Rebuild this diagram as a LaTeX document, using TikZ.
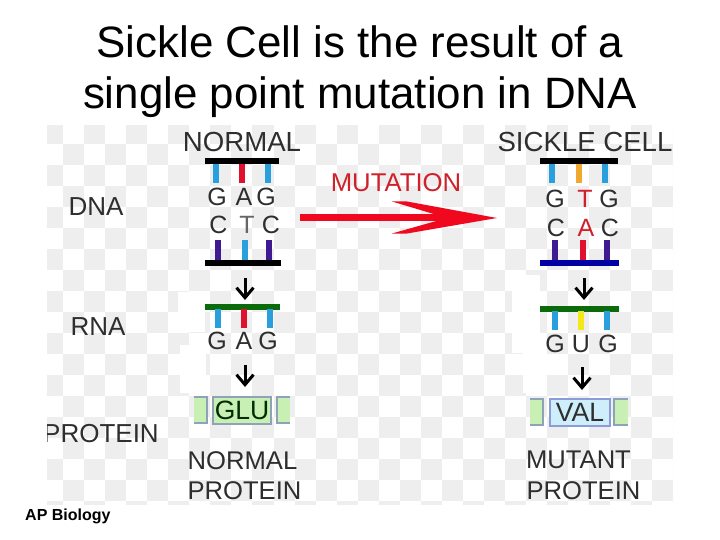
\documentclass[tikz,border=0pt]{standalone}
\usepackage{fontspec}
\setmainfont{Liberation Sans}
\usetikzlibrary{arrows.meta}
\definecolor{chk}{HTML}{EEEEEE}
\definecolor{dnablue}{HTML}{2A9FDD}
\definecolor{dnared}{HTML}{E0102F}
\definecolor{dnapur}{HTML}{3F1A90}
\definecolor{dnaora}{HTML}{F0A830}
\definecolor{dnayel}{HTML}{F5E818}
\definecolor{dnagrn}{HTML}{0B6B0B}
\definecolor{dnanavy}{HTML}{0000A5}
\definecolor{mutred}{HTML}{D0202A}
\definecolor{arrred}{HTML}{F0081E}
\definecolor{pgreen}{HTML}{C8EFB4}
\definecolor{pblue}{HTML}{CDEEFA}
\definecolor{pedge}{HTML}{8FA3B8}
\definecolor{bedge}{HTML}{8C9CD8}
\definecolor{txt}{HTML}{2E2E2E}
\tikzset{
 titletext/.style={inner sep=0,anchor=base,font=\fontsize{43.9}{44}\selectfont,text=black},
 lab/.style={inner sep=0,font=\fontsize{25.6}{26}\selectfont,text=txt},
 head/.style={inner sep=0,font=\fontsize{27.6}{28}\selectfont,text=txt},
 rowlab/.style={inner sep=0,font=\fontsize{26}{26}\selectfont,text=txt},
 base/.style={inner sep=0,font=\fontsize{25}{25}\selectfont,text=txt},
 mutbase/.style={inner sep=0,font=\fontsize{25}{25}\selectfont,text=mutred},
 barnode/.style={rectangle,inner sep=0,minimum height=6pt},
 flowarrow/.style={line width=3pt,black,-{Straight Barb[length=10pt,width=17pt,line width=3pt]}},
 stem/.style={line width=6pt},
 protein/.style={rectangle,inner sep=0,line width=2pt,draw=#1,minimum width=58pt,minimum height=27pt,font=\fontsize{26.5}{27}\selectfont,text=txt},
 sidebox/.style={line width=1.8pt,draw=#1},
}
\newcommand{\stemline}[4]{\draw[stem,#4] (#1,#2) -- (#1,#3);}
\begin{document}
\begin{tikzpicture}[x=1pt,y=-1pt]
\useasboundingbox (0,0) rectangle (720,540);
\fill[white] (0,0) rectangle (720,540);
% checker background
\begin{scope}
\clip (47,126) rectangle (673,504);
\foreach \i in {-1,...,30}{
 \foreach \j in {-1,...,18}{
  \pgfmathtruncatemacro{\p}{mod(\i+\j+40,2)}
  \ifnum\p=0
   \fill[chk] ({63+21.05*\i},{144+21*\j}) rectangle ({63+21.05*\i+21.05},{144+21*\j+21});
  \fi
 }}
\end{scope}
% white patches
\fill[white] (178,292) rectangle (205,332);
\fill[white] (180,345) rectangle (206,393);
\fill[white] (512,275) rectangle (540,353);
\fill[white] (523,353) rectangle (547,393);
% title
\node[titletext] (title1) at (360,57.5) {Sickle Cell is the result of a};
\node[titletext] (title2) at (360,109) {single point mutation in DNA};
% row labels
\node[rowlab] (dna) at (96,207) {DNA};
\node[rowlab] (rna) at (98,327) {RNA};
\begin{scope}
\clip (47,410) rectangle (170,460);
\node[rowlab,anchor=west] (prot) at (43,434) {PROTEIN};
\end{scope}
% headers
\node[head] (normal) at (242,142) {NORMAL};
\node[head] (sickle) at (585,142) {SICKLE CELL};
% mutation
\node[inner sep=0,font=\fontsize{25.7}{26}\selectfont,text=mutred] (mutation) at (396,183) {MUTATION};
\coordinate (mstart) at (300,218);
\coordinate (mend) at (455,218);
\draw[line width=7pt,arrred] (mstart) -- (mend);
\fill[arrred] (392,201.5) -- (407,201.5) -- (497,218) -- (407,233.5) -- (392,233.5) -- (447,218) -- cycle;
% NORMAL column
\node[barnode,fill=black,minimum width=74pt] (nb1) at (242,161) {};
\stemline{216}{164}{183}{dnablue}
\stemline{242}{164}{183}{dnared}
\stemline{267.5}{164}{183}{dnablue}
\node[base] at (217,197) {G};
\node[base] at (244,197) {A};
\node[base] at (266,197) {G};
\node[base] at (218.5,225) {C};
\node[base,text=gray!80!black] at (247,225) {T};
\node[base] at (271,225) {C};
\stemline{218}{240}{262}{dnapur}
\stemline{245}{240}{262}{dnablue}
\stemline{269}{240}{262}{dnapur}
\node[barnode,fill=black,minimum width=76pt] (nb2) at (243,263) {};
\coordinate (na1s) at (245,278);
\coordinate (na1e) at (245,300);
\draw[flowarrow] (na1s) -- (na1e);
\node[barnode,fill=dnagrn,minimum width=75pt] (nr) at (242.5,306.5) {};
\stemline{217.5}{309}{328}{dnablue}
\stemline{244}{309}{328}{dnared}
\stemline{269.5}{309}{328}{dnablue}
\node[base] at (217,341) {G};
\node[base] at (244,341) {A};
\node[base] at (268,341) {G};
\coordinate (na2s) at (245,365);
\coordinate (na2e) at (245,387);
\draw[flowarrow] (na2s) -- (na2e);
\fill[pgreen] (194,397) rectangle (207,423);
\draw[sidebox=pedge] (194,397) -- (207,397) -- (207,423) -- (194,423);
\fill[pgreen] (277,397) rectangle (290,423);
\draw[sidebox=pedge] (290,397) -- (277,397) -- (277,423) -- (290,423);
\node[protein=pedge,fill=pgreen,text=black!70!green!60!black] (glu) at (242,410.5) {GLU};
\node[lab] (np1) at (242.5,461) {NORMAL};
\node[lab] (np2) at (244.5,491) {PROTEIN};
% SICKLE column
\node[barnode,fill=black,minimum width=78pt] (sb1) at (579,161) {};
\stemline{552}{164}{183}{dnablue}
\stemline{579}{164}{183}{dnaora}
\stemline{605}{164}{183}{dnablue}
\node[base] at (555,199) {G};
\node[mutbase] at (585,199) {T};
\node[base] at (609,199) {G};
\node[base] at (556,228) {C};
\node[mutbase] at (586,228) {A};
\node[base] at (610,228) {C};
\stemline{555}{240}{260}{dnapur}
\stemline{583}{240}{260}{dnared}
\stemline{607}{240}{260}{dnapur}
\node[barnode,fill=dnanavy,minimum width=79pt] (sb2) at (579.5,263) {};
\coordinate (sa1s) at (584,278);
\coordinate (sa1e) at (584,300);
\draw[flowarrow] (sa1s) -- (sa1e);
\node[barnode,fill=dnagrn,minimum width=79pt] (sr) at (579.5,308.5) {};
\stemline{555}{311}{330}{dnablue}
\stemline{581}{311}{330}{dnayel}
\stemline{607}{311}{330}{dnablue}
\node[base] at (555,344) {G};
\node[base] at (581,344) {U};
\node[base] at (608,344) {G};
\coordinate (sa2s) at (582,367);
\coordinate (sa2e) at (582,390);
\draw[flowarrow] (sa2s) -- (sa2e);
\fill[pgreen] (530,399) rectangle (543,425);
\draw[sidebox=pedge] (530,399) -- (543,399) -- (543,425) -- (530,425);
\fill[pgreen] (614,399) rectangle (628,425);
\draw[sidebox=pedge] (628,399) -- (614,399) -- (614,425) -- (628,425);
\node[protein=bedge,fill=pblue,minimum width=60pt] (val) at (580,412) {VAL};
\node[lab] (mp1) at (578.5,460) {MUTANT};
\node[lab] (mp2) at (583.5,490.5) {PROTEIN};
% footer
\node[inner sep=0,anchor=west,font=\fontsize{16}{16}\selectfont\bfseries,text=black] (foot) at (25,516.5) {AP Biology};
\end{tikzpicture}
\end{document}
